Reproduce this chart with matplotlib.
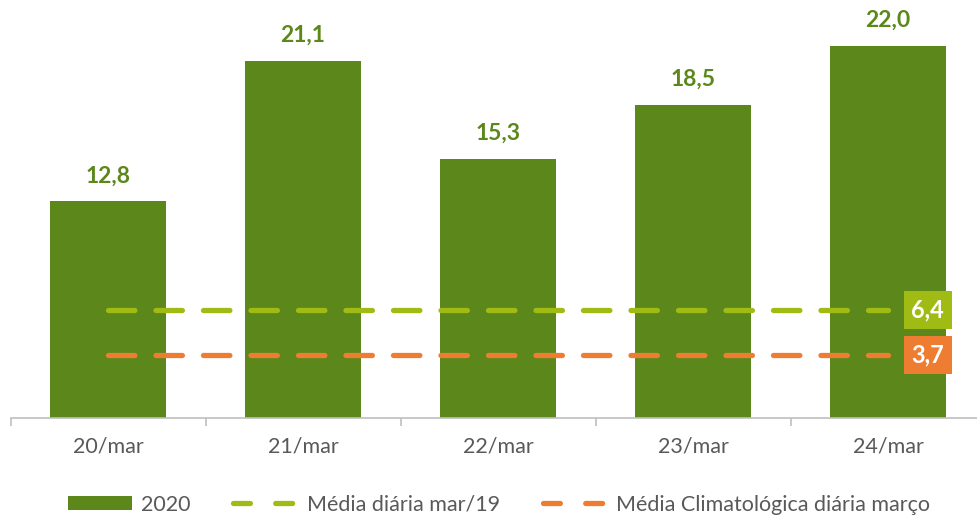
import numpy as np
import matplotlib.pyplot as plt
from matplotlib.patches import Patch
from matplotlib.lines import Line2D

# data
dias = ["20/mar", "21/mar", "22/mar", "23/mar", "24/mar"]
valores_2020 = [12.8, 21.1, 15.3, 18.5, 22.0]
media_mar19 = 6.4
media_climatologica = 3.7

# colours
cor_barra = "#5B871B"
cor_lima = "#A0BC14"
cor_laranja = "#EE7D32"
cor_texto = "#595959"

plt.rcParams['font.family'] = ['Lato', 'DejaVu Sans']

fig = plt.figure(figsize=(9.78, 5.21), dpi=100)
W, H = 978, 521
# axes spans beyond right edge like the original
ax = fig.add_axes([10.5 / W, 103 / H, 975 / W, 406 / H])

x = np.arange(len(dias))
ax.bar(x, valores_2020, width=0.595, color=cor_barra, zorder=2)

for xi, v in zip(x, valores_2020):
    ax.text(xi, v + 0.9, f"{v:.1f}".replace(".", ","), ha="center", va="bottom",
            fontsize=16.5, fontweight="bold", color=cor_barra)

dash = (5, 4)
ax.plot([x[0], x[-1]], [media_mar19] * 2, color=cor_lima, lw=3.8,
        linestyle=(0, dash), dash_capstyle="round", zorder=3)
ax.plot([x[0], x[-1]], [media_climatologica] * 2, color=cor_laranja, lw=3.8,
        linestyle=(0, dash), dash_capstyle="round", zorder=3)

for val, cor in [(media_mar19, cor_lima), (media_climatologica, cor_laranja)]:
    ax.text(x[-1] + 0.12, val, f"{val:.1f}".replace(".", ","), ha="left", va="center",
            fontsize=17, fontweight="bold", color="white", zorder=4,
            bbox=dict(boxstyle="square,pad=0.32", facecolor=cor, edgecolor="none"))

ax.set_xlim(-0.5, 4.5)
ax.set_ylim(0, 24)
ax.set_yticks([])
for s in ["top", "right", "left"]:
    ax.spines[s].set_visible(False)
ax.spines["bottom"].set_color("#BFBFBF")
ax.spines["bottom"].set_linewidth(1.2)

ax.set_xticks(x)
ax.set_xticklabels(dias, fontsize=15.5, color=cor_texto)
ax.tick_params(axis="x", which="major", length=0, pad=13)
ax.set_xticks(np.arange(-0.5, 5.0, 1.0), minor=True)
ax.tick_params(axis="x", which="minor", length=6, color="#BFBFBF", width=1.2)

handles = [
    Patch(facecolor=cor_barra, edgecolor="none"),
    Line2D([0], [0], color=cor_lima, lw=3.8, linestyle=(0, (3.2, 4.8)), dash_capstyle="round"),
    Line2D([0], [0], color=cor_laranja, lw=3.8, linestyle=(0, (3.2, 4.8)), dash_capstyle="round"),
]
labels = ["2020", "Média diária mar/19", "Média Climatológica diária março"]
fig.legend(handles, labels, loc="lower center", ncol=3, frameon=False,
           bbox_to_anchor=(0.51, -0.025), fontsize=15.5, labelcolor=cor_texto,
           handlelength=3.0, handleheight=0.6, columnspacing=2.0, handletextpad=0.4)

fig.savefig("out.png", dpi=100)
